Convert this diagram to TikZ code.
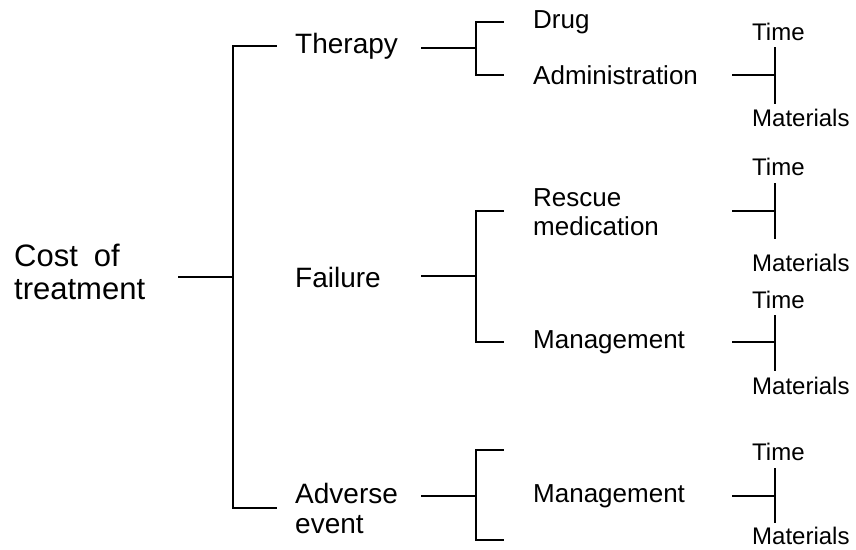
\documentclass[tikz,border=0pt]{standalone}
\usepackage{fontspec}
\setmainfont{Liberation Sans}
\tikzset{
  lvlzero/.style={anchor=west,inner sep=0pt,align=left,font=\fontsize{31}{33}\selectfont},
  lvlone/.style={anchor=west,inner sep=0pt,align=left,font=\fontsize{28}{30}\selectfont},
  lvltwo/.style={anchor=west,inner sep=0pt,align=left,font=\fontsize{26}{29}\selectfont},
  lvlthree/.style={anchor=west,inner sep=0pt,font=\fontsize{24}{26}\selectfont},
  branch/.style={line width=1.7pt,line cap=rect}
}
\begin{document}
\begin{tikzpicture}[x=1pt,y=-1pt]
    \useasboundingbox (0,0) rectangle (856,549);

    % level 0
    \node[lvlzero] (cost) at (14,272) {Cost\hspace{16pt}of\\treatment};
    \coordinate (costout) at (179,277);
    \coordinate (mainmid) at (233,277);
    \coordinate (maintop) at (233,46);
    \coordinate (mainbot) at (233,508);
    \draw[branch] (costout) -- (mainmid);
    \draw[branch] (276,46) -- (maintop) -- (mainbot) -- (276,508);

    % level 1
    \node[lvlone] (therapy) at (295,46) {Therapy};
    \node[lvlone] (failure) at (295,277) {Failure};
    \node[lvlone] (adverse) at (295,508) {Adverse\\event};

    % therapy
    \coordinate (thout) at (422,48);
    \coordinate (thmid) at (476,48);
    \draw[branch] (thout) -- (thmid);
    \draw[branch] (503,22) -- (476,22) -- (476,75) -- (503,75);
    \node[lvltwo] (drug) at (533,22) {Drug};
    \node[lvltwo] (admin) at (533,75) {Administration};

    % failure
    \coordinate (faout) at (422,276);
    \coordinate (famid) at (476,276);
    \draw[branch] (faout) -- (famid);
    \draw[branch] (503,211) -- (476,211) -- (476,342) -- (503,342);
    \node[lvltwo] (rescue) at (533,212) {Rescue\\medication};
    \node[lvltwo] (faman) at (533,342) {Management};

    % adverse event
    \coordinate (adout) at (422,496);
    \coordinate (admid) at (476,496);
    \draw[branch] (adout) -- (admid);
    \draw[branch] (503,450) -- (476,450) -- (476,540) -- (503,540);
    \node[lvltwo] (adman) at (533,496) {Management};

    % level 3
    \draw[branch] (733,75) -- (775,75);
    \draw[branch] (775,48) -- (775,103);
    \node[lvlthree] (admintime) at (752,32) {Time};
    \node[lvlthree] (adminmat) at (752,118) {Materials};

    \draw[branch] (733,211) -- (775,211);
    \draw[branch] (775,184) -- (775,238);
    \node[lvlthree] (rescuetime) at (752,167) {Time};
    \node[lvlthree] (rescuemat) at (752,263) {Materials};

    \draw[branch] (733,342) -- (775,342);
    \draw[branch] (775,316) -- (775,370);
    \node[lvlthree] (famantime) at (752,300) {Time};
    \node[lvlthree] (famanmat) at (752,386) {Materials};

    \draw[branch] (733,496) -- (775,496);
    \draw[branch] (775,469) -- (775,522);
    \node[lvlthree] (admantime) at (752,452) {Time};
    \node[lvlthree] (admanmat) at (752,536) {Materials};
\end{tikzpicture}
\end{document}
